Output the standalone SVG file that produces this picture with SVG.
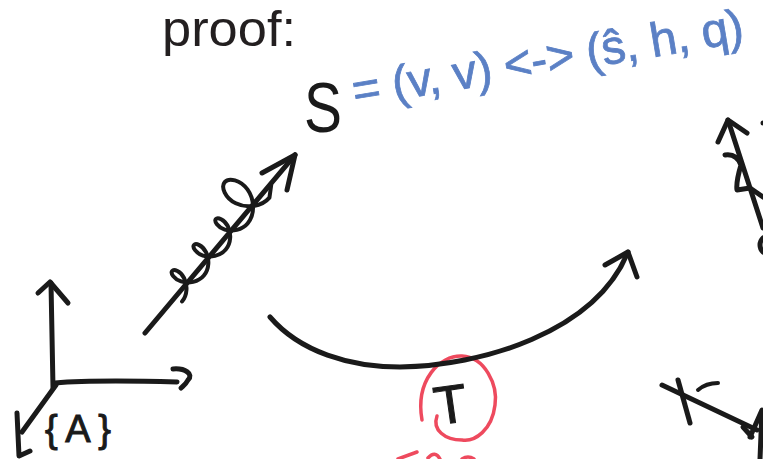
<svg xmlns="http://www.w3.org/2000/svg" width="763" height="459" viewBox="0 0 763 459">
<style>
.ink{fill:none;stroke:#1a1a1a;stroke-width:5;stroke-linecap:round;stroke-linejoin:round}
.thin{stroke-width:4}
.red{fill:none;stroke:#ee4a5e;stroke-width:3.5;stroke-linecap:round;stroke-linejoin:round}
.hand{font-family:"Liberation Sans","DejaVu Sans",sans-serif;fill:#1a1a1a}
.blue{font-family:"Liberation Sans","DejaVu Sans",sans-serif;fill:#5b80c5}
</style>
<rect width="763" height="459" fill="#ffffff"/>

<g id="title">
<text x="162" y="46" font-family="Liberation Sans, sans-serif" font-size="50" textLength="134" lengthAdjust="spacingAndGlyphs" fill="#231f20">proof:</text>
</g>

<g id="node-S">
<text x="304" y="132" class="hand" font-size="70" textLength="38" lengthAdjust="spacingAndGlyphs">S</text>
</g>

<g id="formula" transform="rotate(-9.5 355 107)">
<text x="355" y="107" class="blue" font-size="48" textLength="396" lengthAdjust="spacing" stroke="#5b80c5" stroke-width="0.8">= (v, v) &lt;-&gt; (ŝ, h, q)</text>
</g>

<g id="node-T">
<text x="434" y="423" class="hand" font-size="54" stroke="#1a1a1a" stroke-width="1" transform="rotate(-8 452 405)">T</text>
<path class="red" d="M422,420 C415,380 440,355 462,356 C485,357 498,385 495,405 C492,430 475,442 462,440 C445,440 432,430 437,416"/>
<path class="red" d="M398,459 L417,452 M428,458 Q435,450 440,459 M462,459 Q468,455 474,459"/>
</g>

<g id="node-axes">
<path class="ink" d="M53,388 L51,283"/>
<path class="ink" d="M38,293 L50,282 L68,303"/>
<path class="ink" d="M55,383 C90,380 140,381 177,382"/>
<path class="ink" d="M173,369 C185,368 194,374 188,380 C186,384 183,386 181,388"/>
<path class="ink" d="M56,385 L22,432"/>
<path class="ink" d="M17,413 L19,456 L30,451"/>
<text x="45" y="442" class="hand" font-size="38" stroke="#1a1a1a" stroke-width="1" textLength="66" lengthAdjust="spacing">{A}</text>
</g>

<g id="fragments-right">
<path class="ink" d="M728,120 L763,228"/>
<path class="ink" d="M718,142 L728,120 L747,133"/>
<path class="ink" d="M725,155 C732,154 738,157 741,165 C738,175 736,183 737,190 L750,188 L763,197"/>
<path class="ink" stroke-width="6" d="M763,238 C759,242 759,248 763,252"/>
<circle cx="763" cy="123" r="2.5" fill="#1a1a1a"/>
<path class="ink" d="M662,385 L757,430"/>
<path class="ink" d="M678,380 L690,423"/>
<path class="ink thin" d="M698,390 Q706,383 718,383"/>
<path class="ink" d="M750,437 L762,410 L760,459"/>
<path class="ink" d="M743,427 L752,437"/>
</g>

<g id="connectors">
<g transform="translate(145,333) rotate(-49.9)">
<line x1="0" y1="0" x2="233" y2="0" class="ink"/>
<path class="ink thin" vector-effect="non-scaling-stroke" transform="translate(48,8) scale(1.35,1.7)" d="M0,0 c6.28,0 12.19,-3.81 14.28,-8 c2.09,-4.19 0.38,-8 -1.71,-8 c-2.090,0 -3.81,3.81 -1.72,8 c2.09,4.19 8,8 14.28,8 c6.28,0 12.19,-3.81 14.28,-8 c2.09,-4.19 0.38,-8 -1.71,-8 c-2.09,0 -3.81,3.81 -1.72,8 c2.09,4.19 8,8 14.28,8 c6.28,0 12.19,-3.81 14.28,-8 c2.09,-4.19 0.38,-8 -1.71,-8 c-2.09,0 -3.81,3.81 -1.72,8 c2.09,4.19 8,8 14.28,8 c8.9,0 17.19,-6.19 19.28,-13 c2.09,-6.81 -2,-13 -6.71,-13 c-4.71,0 -8.81,6.19 -6.72,13 c2.09,6.81 10.38,13 19.28,13 l8,-4"/>
</g>
<path class="ink" d="M262,173 L295,155 L287,190"/>
<path class="ink" d="M270,317 C300,352 350,367 400,367 C480,366 595,333 628,252"/>
<path class="ink" d="M605,265 L628,252 L637,277"/>
</g>
</svg>
